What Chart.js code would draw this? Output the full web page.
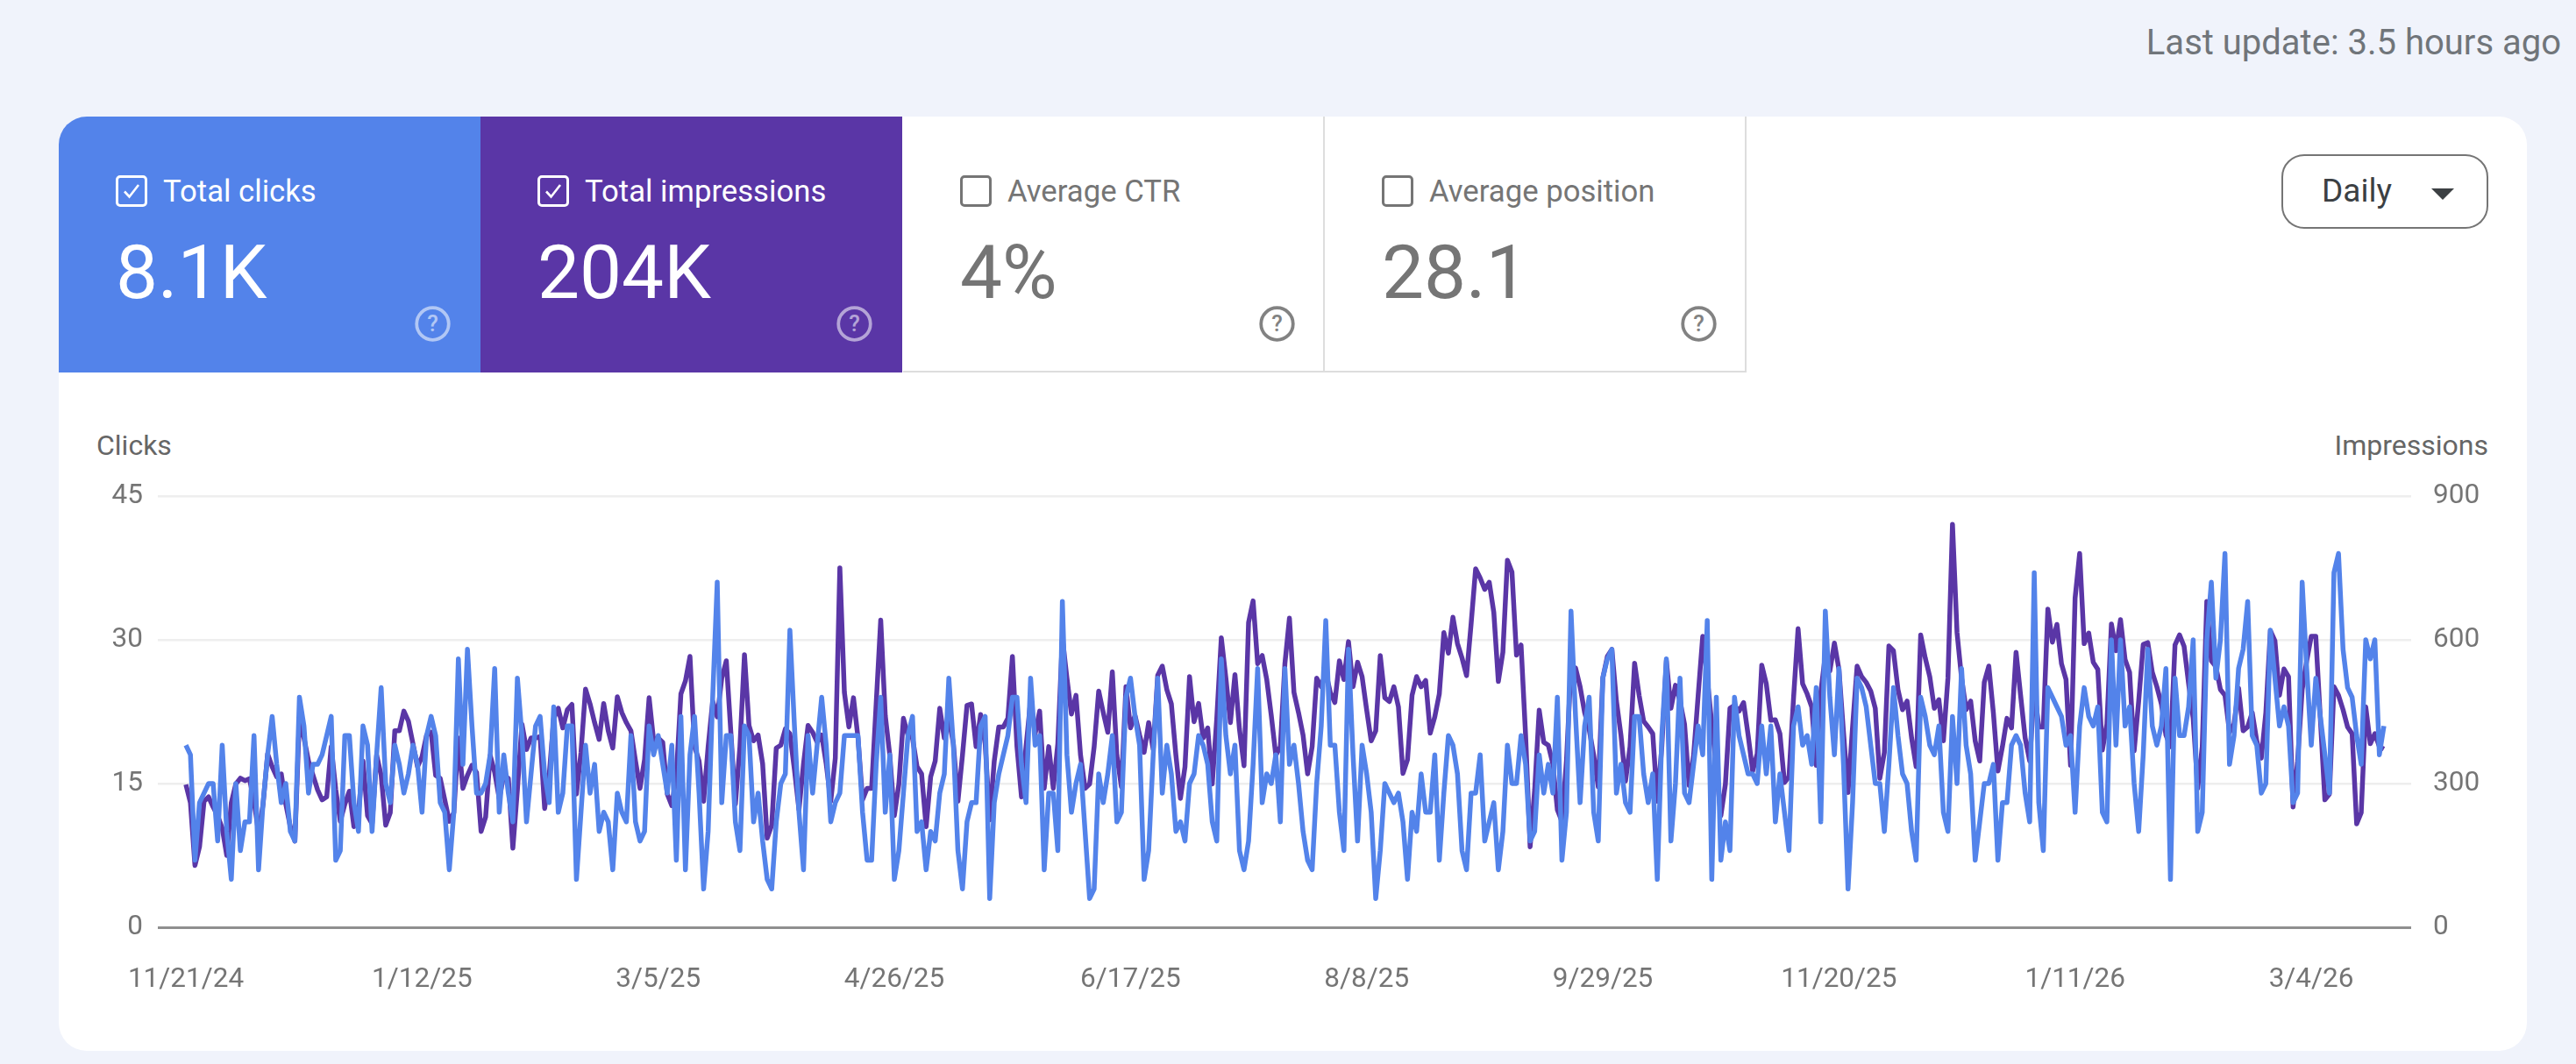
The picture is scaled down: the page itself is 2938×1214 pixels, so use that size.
<!DOCTYPE html>
<html>
<head>
<meta charset="utf-8">
<title>Performance</title>
<script src="https://cdn.jsdelivr.net/npm/chart.js@4"></script>
<style>
  html, body { margin: 0; padding: 0; background: #f0f3fb; }
  body { width: 2938px; height: 1214px; position: relative; overflow: hidden; font-family: Roboto, sans-serif; }
  .abs { position: absolute; white-space: nowrap; }
  .update { right: 17px; top: 25px; font-size: 40px; line-height: 48px; color: #70757a; }
  .card { left: 67px; top: 133px; width: 2815px; height: 1066px; background: #fff; border-radius: 32px; }
  .tab { top: 133px; width: 481px; height: 292px; box-sizing: border-box; color: #757575; }
  .tab.first { border-top-left-radius: 32px; }
  .tab.blue { background: #5383ea; color: #fff; }
  .tab.purple { background: #5a36a6; color: #fff; }
  .tab.off { background: #fff; border-right: 2px solid #dddddd; border-bottom: 2px solid #dddddd; }
  .tab .box { position: absolute; left: 65px; top: 67px; width: 36px; height: 36px; }
  .tab .name { position: absolute; left: 119px; top: 63px; font-size: 34.7px; line-height: 44px; white-space: nowrap; }
  .tab .value { position: absolute; left: 65px; top: 128px; font-size: 85.5px; line-height: 100px; white-space: nowrap; }
  .tab .help { position: absolute; left: 405px; top: 215px; width: 43px; height: 43px; }
  .daily { left: 2602px; top: 176px; width: 236px; height: 85px; box-sizing: border-box; border: 2.5px solid #757575; border-radius: 26px; background: #fff; }
  .daily span { position: absolute; left: 44px; top: 17px; font-size: 37px; line-height: 46px; color: #3c4043; font-weight: 400; }
  .daily i { position: absolute; left: 169px; top: 37px; width: 0; height: 0; border-left: 13px solid transparent; border-right: 13px solid transparent; border-top: 13px solid #3c4043; }
  .axis-name { top: 489px; font-size: 32px; line-height: 38px; color: #666; }
  #chartWrap { left: 67px; top: 530px; width: 2815px; height: 650px; }
</style>
</head>
<body>
<div class="abs update">Last update: 3.5 hours ago</div>
<div class="abs card"></div>
<div id="tabs"></div>
<div class="abs daily"><span>Daily</span><i></i></div>
<div class="abs axis-name" style="left:110px">Clicks</div>
<div class="abs axis-name" style="right:100px">Impressions</div>
<div class="abs" id="chartWrap"><canvas id="chart"></canvas></div>

<script>
// Подписи оси X и их позиции (номер дня от первой точки)
const xTickLabels = ['11/21/24', '1/12/25', '3/5/25', '4/26/25', '6/17/25', '8/8/25', '9/29/25', '11/20/25', '1/11/26', '3/4/26'];
const xTickDays = [0, 52, 104, 156, 208, 260, 312, 364, 416, 468];
const clicksTicks = [0, 15, 30, 45];
const impressionsTicks = [0, 300, 600, 900];

const tabNames = ['Total clicks', 'Total impressions', 'Average CTR', 'Average position'];
const tabValues = ['8.1K', '204K', '4%', '28.1'];

// Клики по дням
const clicks = [
  19,18,7,13,14,15,15,9,19,10, 5,15,8,11,11,20,6,13,18,22,
  17,13,15,10,9,24,21,14,17,17, 18,20,22,7,8,20,20,13,10,21,
  19,10,18,25,15,13,19,17,14,16, 19,17,12,20,22,20,13,12,6,12,
  28,17,29,21,14,14,15,18,27,12, 18,14,11,26,20,11,16,21,22,16,
  13,23,12,14,21,21,5,12,19,14, 17,10,12,11,6,14,12,11,20,11,
  9,10,21,18,20,17,14,19,7,22, 6,18,22,14,4,10,24,36,13,20,
  20,11,8,21,20,11,14,9,5,4, 11,15,16,31,21,12,6,20,14,19,
  24,19,11,13,14,20,20,20,20,12, 7,7,17,24,12,18,5,8,14,20,
  22,10,11,6,10,9,14,16,26,19, 8,4,11,13,13,21,22,3,13,16,
  18,20,24,24,17,13,26,19,20,6, 14,14,8,34,18,12,15,17,10,3,
  4,16,13,16,20,11,12,24,26,22, 19,5,8,18,26,14,19,16,10,11,
  9,15,16,20,19,17,11,9,28,20, 16,19,8,6,9,17,27,13,16,15,
  18,11,27,17,19,15,10,7,6,15, 21,32,19,19,12,8,29,18,9,19,
  16,12,3,8,15,14,13,14,11,5, 12,10,16,12,12,18,7,14,20,19,
  16,8,6,14,14,18,9,11,13,6, 10,19,15,15,20,17,9,10,18,14,
  17,14,24,7,12,33,22,13,21,24, 12,9,26,28,29,14,17,13,12,22,
  22,16,13,16,5,20,28,9,15,26, 14,13,17,21,18,32,5,24,7,11,
  8,24,20,18,16,16,15,21,16,21, 11,16,12,8,21,23,19,20,17,25,
  11,33,24,18,27,17,4,13,26,25, 23,19,15,15,10,17,25,20,16,15,
  10,7,24,22,19,18,21,12,10,22, 15,27,19,16,7,11,15,15,17,7,
  13,13,19,20,19,14,11,37,13,8, 25,24,23,22,19,20,12,21,25,22,
  21,23,12,11,30,19,30,21,23,15, 10,18,29,21,19,21,27,5,26,20,
  20,23,30,10,12,30,36,26,30,39, 17,20,27,29,34,20,19,14,15,31,
  26,21,23,21,13,14,36,27,19,26, 22,18,14,37,39,29,25,24,20,17,
  30,28,30,18,21
];

// Показы по дням
const impressions = [
  298,260,129,168,263,272,251,233,207,150, 260,299,311,306,310,263,198,257,362,335,
  314,320,257,210,180,436,395,347,317,287, 266,272,377,287,221,257,284,210,239,347,
  233,216,359,317,213,239,410,410,451,430, 383,335,356,401,407,317,311,266,221,239,
  395,290,317,338,323,200,230,359,323,269, 317,311,165,287,424,371,395,395,398,248,
  317,436,457,416,454,465,278,365,497,466, 427,392,467,410,374,481,448,427,410,347,
  290,350,479,389,395,386,278,254,317,487, 514,565,377,347,263,377,472,439,520,556,
  407,257,377,569,421,389,401,341,186,213, 374,380,414,404,329,245,341,421,407,386,
  401,341,263,353,750,490,418,479,395,266, 290,290,466,641,442,359,233,299,436,401,
  395,335,320,210,314,347,457,395,436,383, 263,359,463,466,377,444,383,224,347,418,
  418,436,565,377,272,377,472,404,451,290, 377,290,383,604,520,445,484,359,290,299,
  377,493,448,407,533,359,293,502,416,442, 401,365,427,371,526,545,496,466,359,269,
  335,523,429,467,395,416,299,436,604,520, 427,527,413,337,636,681,550,567,517,442,
  359,377,550,645,490,448,401,320,377,520, 502,532,490,469,556,517,596,502,553,523,
  454,389,410,567,479,471,502,460,321,350, 484,523,502,515,405,439,487,615,572,647,
  592,562,525,633,748,729,705,720,657,513, 574,766,741,568,589,401,168,287,453,386,
  380,341,245,221,347,544,541,502,448,413, 359,293,520,565,580,472,401,305,377,551,
  484,430,418,404,263,377,556,457,505,472, 424,296,359,484,607,520,424,335,233,299,
  457,463,451,469,401,326,362,547,508,432, 433,404,302,314,478,623,508,487,460,338,
  490,568,535,593,538,407,281,418,545,523, 511,493,457,311,365,587,577,496,454,472,
  395,335,610,562,523,457,475,389,520,841, 615,520,454,472,389,347,511,545,448,326,
  377,436,416,574,484,395,347,496,418,418, 664,595,632,550,517,338,687,780,592,614,
  553,538,370,424,633,577,642,559,532,368, 472,590,594,532,502,466,401,377,589,610,
  586,508,436,290,377,680,556,544,496,484, 407,424,499,410,418,448,389,353,448,619,
  598,484,539,523,251,347,496,556,607,607, 436,266,278,502,484,454,418,404,216,239,
  460,383,404,377,372
];

// Плашки сверху
const tabLefts = [67, 548, 1030, 1511];
const tabClasses = ['blue first', 'purple', 'off', 'off'];
const tabsEl = document.getElementById('tabs');
tabNames.forEach((name, i) => {
  const on = i < 2;
  const stroke = on ? '#fff' : '#757575';
  const tick = on ? `<path d="M10 18.5l5.5 6L26 11" fill="none" stroke="#fff" stroke-width="2.6"/>` : '';
  const helpOpacity = on ? 0.55 : 0.9;
  tabsEl.insertAdjacentHTML('beforeend', `
    <div class="abs tab ${tabClasses[i]}" style="left:${tabLefts[i]}px">
      <svg class="box" viewBox="0 0 36 36"><rect x="1.5" y="1.5" width="33" height="33" rx="3.5" fill="none" stroke="${stroke}" stroke-width="3"/>${tick}</svg>
      <div class="name">${name}</div>
      <div class="value">${tabValues[i]}</div>
      <svg class="help" viewBox="0 0 40 40" opacity="${helpOpacity}"><circle cx="20" cy="20" r="17" fill="none" stroke="${stroke}" stroke-width="3.5"/><text x="20" y="28" text-anchor="middle" font-family="Roboto" font-weight="500" font-size="24" fill="${stroke}">?</text></svg>
    </div>`);
});

// График
const toPoints = arr => arr.map((y, i) => ({ x: i, y }));
const tickFont = { family: 'Roboto', size: 31.5 };
const gridColor = ctx => ctx.tick.value === 0 ? '#8f8f8f' : '#eeeeee';

new Chart(document.getElementById('chart').getContext('2d'), {
  type: 'line',
  data: {
    datasets: [
      { label: 'Clicks', data: toPoints(clicks), yAxisID: 'yClicks', borderColor: '#5383ea', borderWidth: 5.5, pointRadius: 0, tension: 0, borderJoinStyle: 'round' },
      { label: 'Impressions', data: toPoints(impressions), yAxisID: 'yImpressions', borderColor: '#5a36a6', borderWidth: 5.5, pointRadius: 0, tension: 0, borderJoinStyle: 'round' }
    ]
  },
  options: {
    responsive: true,
    maintainAspectRatio: false,
    animation: false,
    layout: { padding: { top: 13, right: 0, bottom: 0, left: 0 } },
    plugins: { legend: { display: false }, tooltip: { enabled: false } },
    scales: {
      x: {
        type: 'linear',
        min: -6.18,
        max: 490,
        grid: { display: false },
        border: { display: false },
        afterBuildTicks: axis => { axis.ticks = xTickDays.map(value => ({ value })); },
        afterFit: axis => { axis.height = 122; },
        ticks: {
          autoSkip: false,
          maxRotation: 0,
          padding: 33,
          color: '#757575',
          font: tickFont,
          callback: (v) => xTickLabels[xTickDays.indexOf(v)]
        }
      },
      yClicks: {
        position: 'left',
        min: 0,
        max: 45,
        afterBuildTicks: axis => { axis.ticks = clicksTicks.map(value => ({ value })); },
        afterFit: axis => { axis.width = 113; },
        border: { display: false },
        grid: { color: gridColor, lineWidth: ctx => ctx.tick.value === 0 ? 3 : 2.5, drawTicks: false },
        ticks: { padding: 17, color: '#757575', font: tickFont }
      },
      yImpressions: {
        position: 'right',
        min: 0,
        max: 900,
        afterBuildTicks: axis => { axis.ticks = impressionsTicks.map(value => ({ value })); },
        afterFit: axis => { axis.width = 132; },
        border: { display: false },
        grid: { display: false },
        ticks: { padding: 17, color: '#757575', font: tickFont }
      }
    }
  }
});
</script>
</body>
</html>
